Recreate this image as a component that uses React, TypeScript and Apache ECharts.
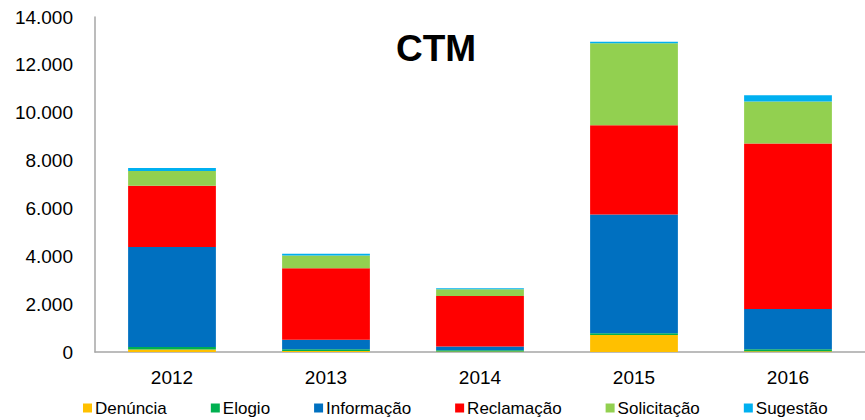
import React, { useEffect, useRef } from "react";
import * as echarts from "echarts";

const categories = ["2012", "2013", "2014", "2015", "2016"];
const seriesNames = ["Denúncia", "Elogio", "Informação", "Reclamação", "Solicitação", "Sugestão"];
const denuncia = [100, 40, 20, 710, 30];
const elogio = [110, 70, 50, 70, 80];
const informacao = [4180, 405, 155, 4970, 1690];
const reclamacao = [2560, 2990, 2115, 3730, 6910];
const solicitacao = [615, 530, 280, 3425, 1755];
const sugestao = [125, 70, 45, 60, 265];
const colors = ["#FFC000", "#00B050", "#0070C0", "#FF0000", "#92D050", "#00B0F0"];
const titleText = "CTM";

const FONT = "'Liberation Sans', Arial, sans-serif";

export default function App() {
  const ref = useRef<HTMLDivElement>(null);
  useEffect(() => {
    if (!ref.current) return;
    const chart = echarts.init(ref.current, null, { renderer: "svg" });
    const data = [denuncia, elogio, informacao, reclamacao, solicitacao, sugestao];
    chart.setOption({
      animation: false,
      color: colors,
      textStyle: { fontFamily: FONT },
      graphic: [
        {
          type: "text",
          x: 436,
          y: 48,
          style: {
            text: titleText,
            font: `bold 37px ${FONT}`,
            fill: "#000",
            textAlign: "center",
            textVerticalAlign: "middle",
          },
        },
      ],
      legend: {
        left: 78,
        bottom: -2,
        itemWidth: 9,
        itemHeight: 9,
        itemGap: 44,
        icon: "rect",
        textStyle: { fontSize: 17, color: "#000", fontFamily: FONT, padding: [0, 0, 0, -2], lineHeight: 18 },
        data: seriesNames,
      },
      grid: { left: 95, right: -7, top: 17, bottom: 68, containLabel: false },
      xAxis: {
        type: "category",
        data: categories,
        axisLine: { lineStyle: { color: "#A6A6A6", width: 1.5 } },
        axisTick: { show: false },
        axisLabel: { fontSize: 19, color: "#000", margin: 16, fontFamily: FONT },
      },
      yAxis: {
        type: "value",
        min: 0,
        max: 14000,
        interval: 2000,
        axisLine: { show: true, lineStyle: { color: "#A6A6A6", width: 1.5 } },
        axisTick: { show: false },
        splitLine: { show: false },
        axisLabel: {
          fontSize: 19,
          color: "#000",
          margin: 22,
          fontFamily: FONT,
          formatter: (v: number) => (v === 0 ? "0" : v.toLocaleString("de-DE")),
        },
      },
      series: seriesNames.map((name, i) => ({
        name,
        type: "bar",
        stack: "total",
        barWidth: "57%",
        data: data[i],
        itemStyle: { color: colors[i] },
      })),
    });
    return () => chart.dispose();
  }, []);
  return <div ref={ref} style={{ width: 865, height: 420, position: "absolute", left: 0, top: 0 }} />;
}
